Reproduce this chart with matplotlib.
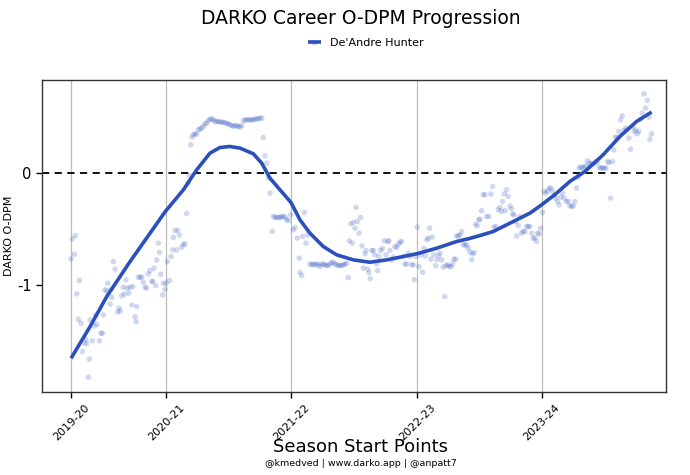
import matplotlib
matplotlib.use("Agg")
import matplotlib.pyplot as plt
import numpy as np

# season start positions (daily index) and labels
season_pos = [0, 95, 220, 346, 471]
season_labels = ["2019-20", "2020-21", "2021-22", "2022-23", "2023-24"]

# daily O-DPM estimates (scatter)
dot_x = [0, 1.3, 4.3, 3.3, 5.7, 8.3, 7.3, 10, 11.3, 13.3, 15.7, 14.7, 18.3, 17.3, 19, 21.3, 23.3, 25.7, 24.3,
         28.3, 30, 31.3, 32.3, 34, 35.7, 36.7, 39, 40.7, 40, 42.3, 44, 46.7, 48, 49, 50.7, 52.3, 53.3, 55,
         56.3, 57.7, 59, 60.7, 61.7, 64, 65.7, 65, 67.3, 69, 70.7, 72.3, 74, 75.7, 77.3, 79, 80.7, 81.7, 83,
         84.7, 85.7, 87.3, 88.3, 89.7, 91.7, 92.3, 94, 95, 96.3, 98.3,
         100, 101.7, 102.3, 104, 105.7, 106.7, 108.3, 110.7, 112.3, 114, 115.7, 117.3, 118.3, 119.7, 121,
         122.3, 124, 125.7, 127.3, 129, 130.7, 132.3, 134, 135.7, 137.3, 139, 140.7, 142.3, 144, 145.7, 147.3,
         149, 150.7, 152.3, 154, 155.7, 157.3, 159, 160.7, 162.3, 164, 165.7, 167.3, 169, 170.7, 172.3, 174,
         175.7, 177.3, 179, 180.7, 182.3, 184, 185.7, 187.3, 189, 190.7, 192.3, 194, 195.7, 197.3, 199, 201.3,
         202.3, 204, 205.7, 207.3, 209, 210.7, 212.3, 214, 215.7, 217.3, 219.7,
         222.3, 224, 226.3, 228.3, 229, 230.7, 231.7, 233.3, 235, 236.7, 239, 240.7, 242.3, 244, 245.7, 247.3,
         249, 250.7, 252.3, 254, 255.7, 257.3, 259, 260.7, 262.3, 264, 265.7, 267.3, 269, 270.7, 272.3, 274,
         275.7, 277.3, 278.3, 279.7, 281.3, 282.3, 284, 285, 286.3, 288, 289.7, 291, 292.3, 294, 295, 296.7,
         298, 299.3, 301, 302.3, 304, 305.7, 306.7, 308, 309.7, 311.3, 313.3, 315, 316.7, 318, 319, 320.7,
         322.3, 324, 325.7, 327.3, 329, 330.7, 332.3, 334, 335.7, 337.3, 339, 340.7, 342.3, 343.3, 345,
         346.3, 348, 349.7, 351.7, 353, 354.3, 356, 357.3, 358.7, 360, 361.3, 363, 364.7, 366, 367.7, 369,
         370.7, 372.3, 373.7, 375, 376.7, 378.3, 380, 381.7, 383, 384.7, 385.7, 387.3, 389, 390.7, 392.3,
         394, 395.7, 397.3, 399, 400.7, 401.7, 403.3, 404.7, 406.3, 408,
         409, 410.7, 412.3, 414, 415.7, 418, 420, 421.7, 423, 425, 427.3, 429, 430.7, 431.7, 433.3, 434.3,
         435.7, 437.3, 439, 440.7, 441.7, 443.3, 444.7, 445.7, 447.3, 449, 450.7, 452.3, 454, 455.7, 457.3,
         459, 460.7, 462.3, 464, 465.7, 466.7, 468.3, 469.7, 471.7, 473.3, 475, 476.7, 478.3, 480, 481.7,
         483.3, 485, 486.7, 488.3, 490, 491.7, 493.3, 495.7, 497.3, 499, 500.7, 502.3, 504, 505.7, 507.3,
         508.3, 510, 511.7, 513.3, 515, 516.7, 518.3, 520, 521.7, 523.3, 525, 526.7, 528.3, 530, 531.7, 533.3,
         535, 536.7, 538.3, 539.7, 541.7, 543, 544.3, 546.3, 548, 549.7, 551.3, 553, 554.7, 556.3, 558, 559.7,
         561.7, 563.3, 564.7, 566.3, 568, 569.7, 571.3, 573, 574.7, 576.3, 578, 579, 580.7]
dot_y = [-0.768, -0.589, -0.56, -0.726, -1.08, -0.961, -1.307, -1.342, -1.595, -1.521, -1.521, -1.485, -1.661,
         -1.824, -1.313, -1.5, -1.366, -1.351, -1.268, -1.5, -1.432, -1.432, -1.268, -1.045, -1.054, -0.985,
         -1.17, -1.11, -1.039, -0.792, -0.86, -1.244, -1.208, -1.232, -1.098, -1.021, -1.083, -0.955, -1.03,
         -1.074, -1.021, -1.179, -1.015, -1.283, -1.193, -1.327, -0.932, -0.932, -0.932, -0.976, -1.021, -1.03,
         -0.902, -0.872, -0.97, -0.97, -0.851, -1.006, -0.777, -0.628, -0.711, -0.905, -1.089, -0.985, -1.039,
         -0.985, -0.792, -0.961,
         -0.747, -0.688, -0.577, -0.515, -0.688, -0.515, -0.557, -0.664, -0.64, -0.634, -0.363, -0.092, -0.024,
         0.25, 0.318, 0.339, 0.348, 0.345, 0.384, 0.39, 0.399, 0.414, 0.438, 0.443, 0.467, 0.479, 0.482, 0.473,
         0.458, 0.458, 0.458, 0.452, 0.452, 0.452, 0.449, 0.438, 0.438, 0.429, 0.423, 0.414, 0.42, 0.42, 0.414,
         0.408, 0.42, 0.464, 0.473, 0.473, 0.473, 0.473, 0.473, 0.473, 0.479, 0.482, 0.482, 0.488, 0.488, 0.315,
         0.152, 0.086, -0.048, -0.182, -0.524, -0.39, -0.396, -0.399, -0.399, -0.399, -0.39, -0.39, -0.396,
         -0.42, -0.426, -0.375,
         -0.509, -0.488, -0.583, -0.762, -0.89, -0.917, -0.568, -0.354, -0.628, -0.554, -0.813, -0.821, -0.815,
         -0.821, -0.813, -0.821, -0.836, -0.815, -0.815, -0.821, -0.827, -0.827, -0.815, -0.8, -0.8, -0.813,
         -0.821, -0.827, -0.827, -0.827, -0.821, -0.815, -0.807, -0.935, -0.607, -0.455, -0.628, -0.443, -0.494,
         -0.31, -0.435, -0.539, -0.399, -0.652, -0.851, -0.723, -0.693, -0.86, -0.89, -0.943, -0.693, -0.693,
         -0.732, -0.813, -0.872, -0.747, -0.693, -0.673, -0.607, -0.732, -0.613, -0.607, -0.693, -0.777, -0.753,
         -0.658, -0.667, -0.637, -0.619, -0.613, -0.747, -0.815, -0.815, -0.717, -0.747, -0.821, -0.821, -0.955,
         -0.747, -0.485, -0.836, -0.732, -0.887, -0.673, -0.741, -0.598, -0.583, -0.494, -0.771, -0.574, -0.732,
         -0.83, -0.777, -0.741, -0.717, -0.777, -0.842, -1.104, -0.827, -0.821, -0.836, -0.836, -0.813, -0.771,
         -0.771, -0.563, -0.563, -0.554, -0.524, -0.643, -0.643, -0.643, -0.673, -0.708, -0.777, -0.723, -0.711,
         -0.458, -0.473, -0.42,
         -0.414, -0.339, -0.196, -0.196, -0.39, -0.39, -0.19, -0.122, -0.485, -0.479, -0.33, -0.31, -0.345,
         -0.256, -0.188, -0.336, -0.152, -0.211, -0.295, -0.321, -0.369, -0.375, -0.435, -0.563, -0.47, -0.39,
         -0.539, -0.524, -0.524, -0.479, -0.479, -0.479, -0.539, -0.583, -0.583, -0.613, -0.539, -0.545, -0.494,
         -0.354, -0.167, -0.182, -0.161, -0.137, -0.137, -0.167, -0.202, -0.226, -0.256, -0.286, -0.217, -0.182,
         -0.226, -0.256, -0.256, -0.295, -0.301, -0.295, -0.256, -0.137, -0.039, 0.042, 0.051, 0.042, 0.051,
         0.063, 0.107, 0.086, 0.08, 0.086, 0.08, 0.101, 0.101, 0.051, 0.042, 0.042, 0.042, 0.042, 0.101, 0.092,
         -0.226, 0.101, 0.205, 0.318, 0.318, 0.369, 0.473, 0.509, 0.378, 0.399, 0.384, 0.31, 0.211, 0.414,
         0.369, 0.384, 0.348, 0.369, 0.479, 0.533, 0.705, 0.577, 0.646, 0.497, 0.3, 0.348]

# smoothed trend
trend_x = [0, 19, 35.7, 59, 79, 94.3, 112.3, 125.7, 139, 149, 159, 169, 182.3, 190.7, 199, 209, 220, 229, 239,
           252.3, 265.7, 282.3, 299, 315.7, 332.3, 345.7, 365.7, 385.7, 399, 409, 422.3, 442.3, 459, 470.7,
           485.7, 499, 514, 532.3, 549, 565.7, 580.7]
trend_y = [-1.655, -1.372, -1.104, -0.792, -0.539, -0.345, -0.152, 0.027, 0.176, 0.226, 0.235, 0.22, 0.17,
           0.086, -0.048, -0.152, -0.265, -0.42, -0.539, -0.658, -0.732, -0.777, -0.798, -0.777, -0.747, -0.723,
           -0.673, -0.613, -0.585, -0.56, -0.524, -0.435, -0.36, -0.286, -0.182, -0.077, 0.012, 0.161, 0.324,
           0.458, 0.542]

blue = "#2b4fbd"

fig = plt.figure(figsize=(6.9, 4.75), dpi=100)
ax = fig.add_axes([0.061, 0.175, 0.904, 0.657])

for p in season_pos:
    ax.axvline(p, color="#bbbbbb", lw=0.9, zorder=0)
ax.axhline(0, color="black", ls=(0, (4, 3)), lw=1.3, zorder=1)

dots = ax.scatter(dot_x, dot_y, s=16, color=blue, alpha=0.22, edgecolors="none", zorder=2)
line, = ax.plot(trend_x, trend_y, color=blue, lw=2.6, zorder=3, solid_capstyle="butt")

ax.set_xlim(-29, 595)
ax.set_ylim(-1.955, 0.83)
ax.set_yticks([0, -1])
ax.set_yticklabels(["0", "-1"], fontsize=10.5)
ax.set_xticks(season_pos)
ax.set_xticklabels(season_labels, rotation=45, fontsize=8)
ax.tick_params(axis="x", length=4, width=1)
ax.tick_params(axis="y", length=4, width=1)
for s in ax.spines.values():
    s.set_color("#333333")
    s.set_linewidth(1)

ax.set_ylabel("DARKO O-DPM", fontsize=8)
ax.yaxis.set_label_coords(-0.045, 0.5)
ax.set_xlabel("Season Start Points", fontsize=13, va="center")
ax.xaxis.set_label_coords(0.511, -0.176)

fig.text(0.523, 0.962, "DARKO Career O-DPM Progression", ha="center", va="center", fontsize=13.5)
fig.legend([(dots, line)], ["De'Andre Hunter"], loc="center", bbox_to_anchor=(0.53, 0.91),
           frameon=False, fontsize=8, handlelength=1.2, handletextpad=0.8)
fig.text(0.523, 0.025, "@kmedved | www.darko.app | @anpatt7", ha="center", va="center", fontsize=6.8)

fig.savefig("out.png", dpi=100)
